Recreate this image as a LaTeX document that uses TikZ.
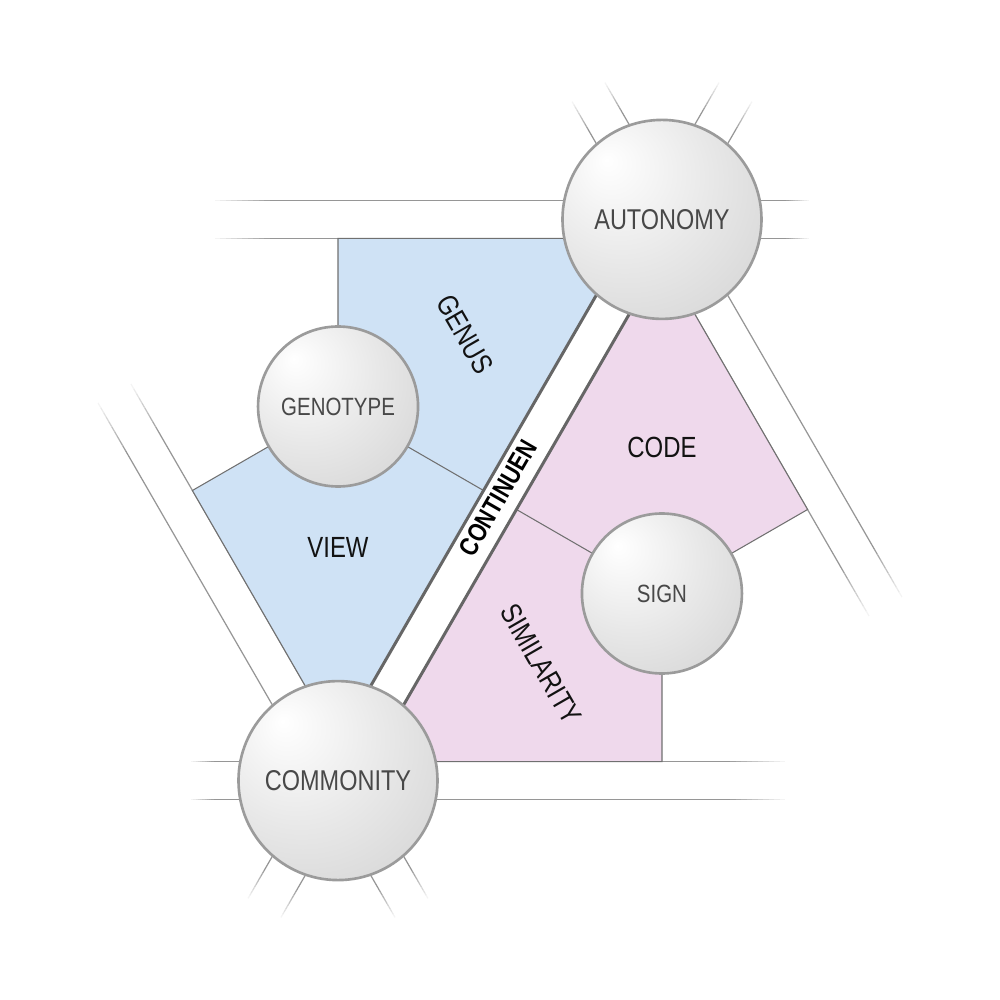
\documentclass[tikz,border=0pt]{standalone}
\usepackage{fontspec}
\setmainfont{Liberation Sans}[FakeStretch=0.82]
\usetikzlibrary{calc}

\definecolor{bluefield}{RGB}{207,226,245}
\definecolor{pinkfield}{RGB}{239,217,236}
\definecolor{roadgray}{RGB}{150,150,150}
\definecolor{edgegray}{RGB}{112,112,112}
\definecolor{maingray}{RGB}{102,102,102}
\definecolor{ballrim}{RGB}{155,155,155}
\definecolor{balltext}{RGB}{72,72,72}

\pgfdeclareradialshading{ballshade}{\pgfpoint{-14bp}{15bp}}{%
  color(0bp)=(white); color(22bp)=(black!9); color(48bp)=(black!19); color(72bp)=(black!28)}

% one line of a road along the local x axis, fading out at its far end
\newcommand{\roadline}[4]{%
  \draw[road] (#2,#1) -- (#3,#1);
  \foreach \i [evaluate=\i as \c using int(100-9*\i)] in {0,...,10}
    \draw[road,draw=roadgray!\c] ({#3+(#4-#3)*\i/11},#1) -- ({#3+(#4-#3)*(\i+1)/11},#1);
}
\newcommand{\roadpair}[3]{\roadline{19}{#1}{#2}{#3}\roadline{-19}{#1}{#2}{#3}}

\tikzset{
  road/.style={draw=roadgray, line width=0.7pt},
  mainroad/.style={draw=maingray, line width=1.7pt},
  spoke/.style={draw=edgegray, line width=0.6pt},
  field/.style={draw=edgegray, line width=0.6pt},
  ball/.style={circle, inner sep=0pt, draw=ballrim, line width=1.5pt,
    shading=ballshade, text=balltext},
  bigball/.style={ball, minimum size=3.98cm, font=\fontsize{16.3}{19}\selectfont},
  smallball/.style={ball, minimum size=3.2cm, font=\fontsize{14.2}{17}\selectfont},
  fieldlabel/.style={text=black!93, font=\fontsize{16.6}{19}\selectfont},
  roadlabel/.style={text=black, font=\fontsize{15}{18}\selectfont\bfseries},
}

\begin{document}
\begin{tikzpicture}[x=0.2mm, y=0.2mm]
  \useasboundingbox (-500,-500) rectangle (500,500);

  \coordinate (Ac) at (60:324);
  \coordinate (Cc) at (240:324);
  \coordinate (Gc) at (150:187);
  \coordinate (Sc) at (-30:187);

  % corners of the two fields
  \coordinate (gtop) at (-162,261.6);
  \coordinate (gleft) at (-307.6,9.5);
  \coordinate (gright) at (-16.5,9.5);
  \coordinate (bA) at (129.1,261.6);
  \coordinate (bC) at (-162,-242.6);
  \coordinate (sbot) at (162,-261.6);
  \coordinate (sright) at (307.6,-9.5);
  \coordinate (sleft) at (16.5,-9.5);
  \coordinate (pC) at (-129.1,-261.6);
  \coordinate (pA) at (162,242.6);

  % roads
  \begin{scope}[shift={(Ac)}, rotate=180] \roadpair{0}{387}{447} \end{scope}
  \begin{scope}[shift={(Ac)}, rotate=-60] \roadpair{0}{387}{447} \end{scope}
  \begin{scope}[shift={(Ac)}, rotate=0] \roadpair{60}{122}{147} \end{scope}
  \begin{scope}[shift={(Ac)}, rotate=60] \roadpair{60}{112}{147} \end{scope}
  \begin{scope}[shift={(Ac)}, rotate=120] \roadpair{60}{112}{147} \end{scope}
  \begin{scope}[shift={(Cc)}, rotate=0] \roadpair{0}{387}{447} \end{scope}
  \begin{scope}[shift={(Cc)}, rotate=120] \roadpair{0}{387}{447} \end{scope}
  \begin{scope}[shift={(Cc)}, rotate=180] \roadpair{60}{122}{147} \end{scope}
  \begin{scope}[shift={(Cc)}, rotate=240] \roadpair{60}{112}{147} \end{scope}
  \begin{scope}[shift={(Cc)}, rotate=-60] \roadpair{60}{112}{147} \end{scope}

  % fields
  \filldraw[field, fill=bluefield] (Gc) -- (gtop) -- (bA) -- (bC) -- (gleft) -- cycle;
  \filldraw[field, fill=pinkfield] (Sc) -- (sbot) -- (pC) -- (pA) -- (sright) -- cycle;
  \draw[spoke] (Gc) -- (gright);
  \draw[spoke] (Sc) -- (sleft);

  % main road
  \begin{scope}[rotate=60]
    \draw[mainroad] (-324,19) -- (324,19);
    \draw[mainroad] (-324,-19) -- (324,-19);
  \end{scope}

  \node[bigball] (autonomy) at (Ac) {AUTONOMY};
  \node[bigball] (commonity) at (Cc) {COMMONITY};
  \node[smallball] (genotype) at (Gc) {GENOTYPE};
  \node[smallball] (sign) at (Sc) {SIGN};

  \node[fieldlabel, rotate=-60] (genus) at (-35,166) {GENUS};
  \node[fieldlabel] (view) at (-162,-47) {VIEW};
  \node[fieldlabel] (code) at (162,53) {CODE};
  \node[fieldlabel, rotate=-60] (similarity) at (41,-164) {SIMILARITY};
  \node[roadlabel, rotate=60] (continuen) at (-2,2) {CONTINUEN};
\end{tikzpicture}
\end{document}
